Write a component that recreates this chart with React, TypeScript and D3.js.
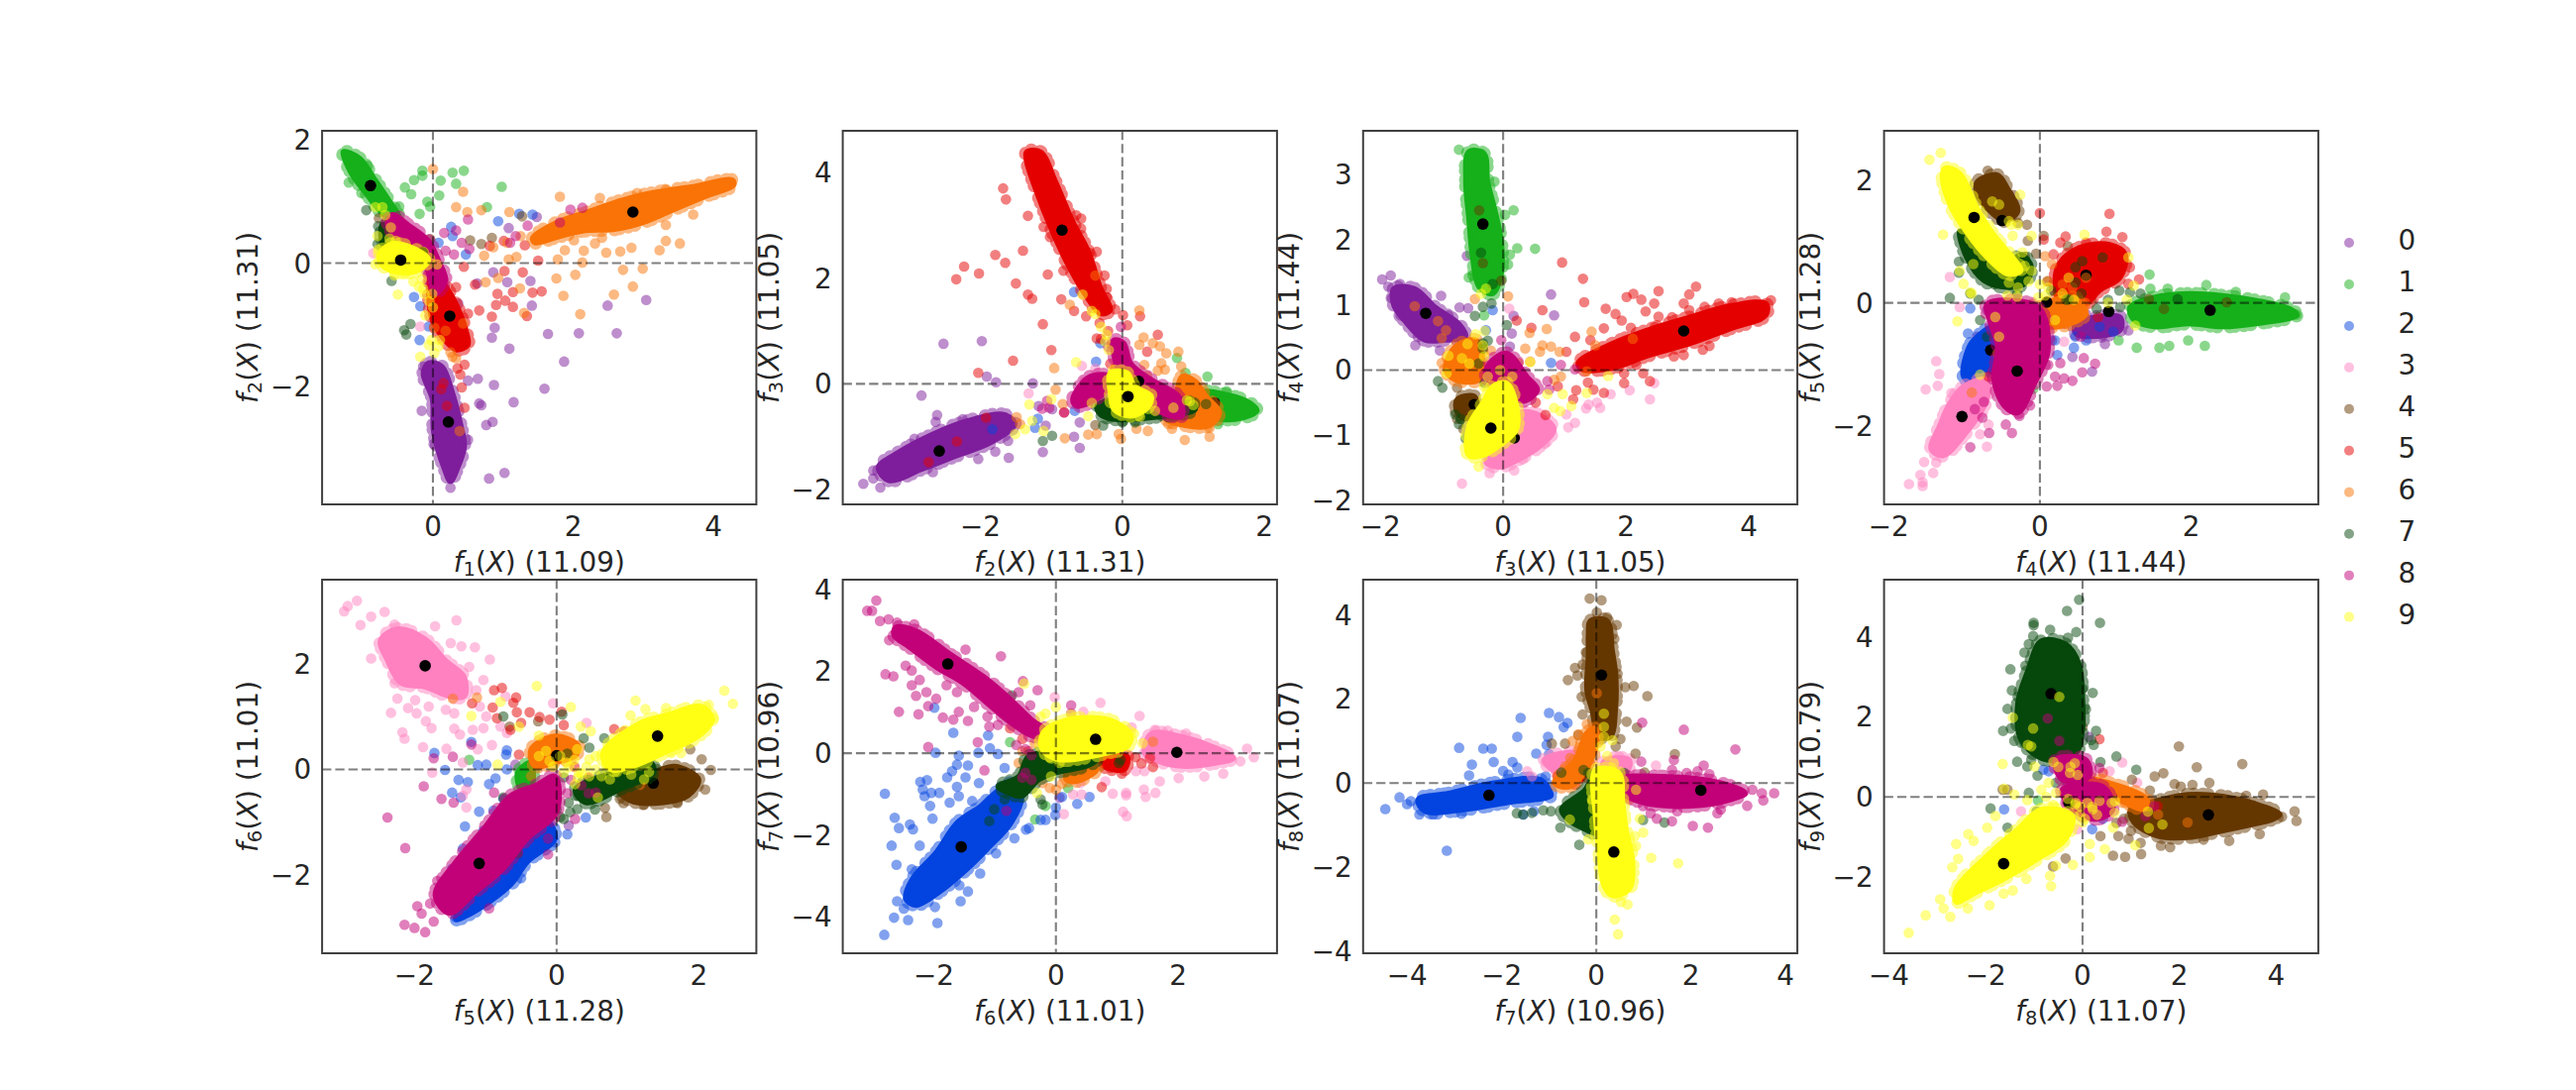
import React from "react";
import * as d3 from "d3";

// class colours, in legend order
const classNames = ["0", "1", "2", "3", "4", "5", "6", "7", "8", "9"];
const classColors = ["#7e1e9c", "#15b01a", "#0343df", "#ff81c0", "#653700", "#e50000", "#f97306", "#06470c", "#c20078", "#ffff14"];

type Flat = Record<number, number[]>;
type Clouds = Record<number, number[][]>;

// clouds = outlines of the saturated parts, dots = points that can be told apart, means = black class centres
// all as flat x,y lists
const p1Clouds: Clouds = {
    0: [[-.06,-1.62,.13,-1.68,.28,-2.11,.40,-2.64,.45,-2.97,.35,-3.34,.25,-3.55,.16,-3.34,.01,-2.75,-.01,-2.21,-.14,-1.79]],
    1: [[-1.28,1.81,-1.04,1.70,-.84,1.38,-.65,1.06,-.48,.73,-.70,.79,-.94,1.11,-1.18,1.49]],
    5: [[-.01,-.07,.13,-.28,.33,-.66,.47,-1.09,.50,-1.33,.33,-1.41,.13,-1.20,-.01,-.93,-.06,-.50]],
    6: [[1.42,.41,1.74,.65,2.22,.84,2.71,1.03,3.20,1.16,3.68,1.24,4.27,1.35,4.29,1.27,3.88,1.08,3.44,.87,3.05,.68,2.61,.55,2.13,.52,1.74,.41,1.45,.33]],
    7: [[-.72,.63,-.55,.52,-.50,.25,-.70,.25]],
    8: [[-.57,.79,-.36,.63,-.06,.36,.08,.04,.18,-.28,.03,-.50,-.06,-.18,-.21,.20,-.50,.41,-.65,.63]],
    9: [[-.77,.14,-.60,.31,-.36,.28,-.06,.06,-.21,-.12,-.50,-.15,-.72,-.04]],
};
const p1Dots: Flat = {
    0: [.86,-.15,1.06,-.31,1.39,-.29,.63,-.33,.36,-.66,1.41,-.69,.88,-1.05,.84,-1.21,1.09,-1.39,1.64,-1.15,2.08,-1.14,2.62,-1.14,2.49,-.69,3.04,-.60,1.87,-1.60,1.59,-2.04,1.15,-2.26,.87,-1.98,.64,-1.88,.50,-1.91,.66,-2.28,.69,-2.31,.85,-2.58,.76,-2.63,.50,-2.87,-.16,-2.40,1.02,-3.41,.80,-3.50,.25,-3.65,.01,-2.94,-.14,-1.68,1.08,.57,1.48,.75],
    1: [-.15,1.50,-.15,1.42,-.27,1.35,-.40,1.23,.28,1.47,.44,1.50,.11,1.34,.33,1.29,.98,1.24,-.31,1.12,-.08,1.00,.09,1.10,-.04,.92,-.19,.80,.77,.91,-.48,.92,-1.20,1.31,-.93,1.58,-1.02,1.14],
    2: [.93,.68,1.23,.80,1.42,.79,.26,.59,.28,.44,.08,.33,.47,.14,-.27,-.55,-.18,-.70,-.06,-1.03,-.19,-1.25],
    3: [-.85,.16,-.18,-1.03],
    4: [1.27,.76,.84,.41,.69,.31,.53,.37,-.04,.39,-.77,.73],
    5: [.44,-.06,.60,-.35,.33,-.39,.50,-.82,.66,-.77,.84,-.87,.90,-.68,.92,-.50,1.03,-.61,1.14,-.47,1.14,-.71,1.42,-.48,1.55,-.46,1.34,-.86,1.28,-.15,1.02,-.13,1.50,.04,.35,-1.71,.45,-1.65,.39,-1.81,.41,-2.02,.45,-2.35,.15,-1.95,.12,-2.05,.20,-2.32,1.01,.36,1.31,.29,.81,.28],
    6: [0,1.53,.43,1.16,.33,.91,.49,.83,.69,.86,1.09,.83,1.81,1.08,2.38,1.06,2.91,1.14,3.32,1.19,3.71,.79,3.32,.62,3.32,.36,3.52,.32,3.23,.21,2.83,.25,2.67,.19,2.47,.17,2.31,.32,2.15,.20,1.88,.21,2.01,.37,2.41,.41,2.99,-.09,2.71,-.11,2.85,-.38,2.58,-.51,2.10,-.83,1.86,-.53,1.76,-.25,2.03,-.19,2.13,.01,1.78,.06,1.19,.10,1.08,.06,.73,.12,.93,-.24,.75,-.31,1.24,-.41,1.30,-.81,.43,-.98,.28,-1.52,.38,-2.73,.86,.26,1.06,.33,1.25,.44,.02,-1.05,.18,-1.10,.25,-1.45,.33,-1.55],
    7: [-.95,.86,-.59,-.29,-.32,-.99,-.41,-1.09,-.38,-1.16,-.79,.31,-.62,.70,-.78,.60,-.66,.42,-.50,.50],
    8: [.50,.71,.16,.49,.33,.53,1.35,.61,1.96,.87,2.13,.90,1.81,.66,1.18,.44,1.10,.33,.41,.33,.52,.23,.30,.14,.18,.20],
    9: [-.82,.91,-.72,.91,-.60,.58,-.79,.44,-.53,.36,-.50,-.51,-.55,-.20,-.40,-.18,-.16,-.26,-.14,-.42,-.01,-.50,-.18,-1.52,-.11,-.85,-.06,-1.33,.08,-1.35,.02,-1.46,.06,-.02,-.82,-.02,-.28,-.30,-.20,-.38,-.12,-.50,-.05,-.62,0,-.72,-.02,-1.25,.10,-1.25,-.62,.40,-.68,.78,-.55,.28,-.78,.22],
};
const p1Means: Flat = {0: [.22,-2.58], 1: [-.89,1.26], 5: [.24,-.86], 6: [2.85,.83], 8: [-.15,.17], 9: [-.46,.05]};

const p2Clouds: Clouds = {
    0: [[-3.44,-1.58,-3.15,-1.29,-2.67,-.95,-2.19,-.70,-1.66,-.58,-1.51,-.76,-1.85,-1.11,-2.33,-1.36,-2.81,-1.61,-3.29,-1.83]],
    1: [[1.08,-.17,1.47,-.20,1.80,-.36,1.90,-.51,1.71,-.64,1.37,-.67,1.08,-.54]],
    5: [[-1.35,4.39,-1.15,4.39,-.94,3.83,-.70,3.08,-.48,2.52,-.31,1.83,-.17,1.39,-.31,1.33,-.50,1.64,-.75,2.21,-.99,2.89,-1.23,3.71,-1.35,4.21]],
    6: [[.84,.14,1.03,.05,1.18,-.23,1.37,-.54,1.23,-.79,.89,-.79,.60,-.64,.75,-.23]],
    7: [[-.36,-.42,-.12,-.29,.36,-.42,.99,-.36,1.03,-.48,.41,-.64,-.12,-.67,-.31,-.58]],
    8: [[-.12,.83,.02,.77,.12,.39,.41,.08,.79,-.23,.84,-.61,.55,-.54,.22,-.04,-.07,.33],[-.70,-.29,-.46,.14,-.17,.14,-.22,-.11,-.46,-.36,-.65,-.42]],
    9: [[-.17,.21,.07,.21,.17,-.04,.41,-.23,.36,-.45,.12,-.61,-.12,-.48,-.17,-.17]],
};
const p2Dots: Flat = {
    0: [-2.52,.76,-1.98,.81,-1.91,.14,-1.78,.03,-1.26,.01,-2.83,-.22,-2.61,-.59,-2.63,-.72,-2.25,-.67,-2.93,-1.04,-3.65,-1.89,-3.51,-1.79,-3.41,-1.96,-3.51,-1.64,-2.03,-1.42,-1.60,-1.40,-1.79,-1.28,-1.12,-1.29,-.68,-1.00,-.60,-1.21,-.60,-.73,-.99,-.48,-1.08,-.79,-1.61,-1.08,-2.67,-1.67,-1.18,-.42],
    1: [.77,.49,.89,.21,1.20,.14,1.35,-.76,1.47,-.14],
    2: [-.68,1.74,-.37,.42,-1.19,-.66,-1.23,-.83,-1.83,-.86,-.67,-.51,-.31,.77],
    3: [-1.32,-.18,-.57,.34,-.38,.29,-.53,.05],
    4: [-.38,-.78],
    5: [-1.68,3.70,-1.64,3.49,-1.33,3.18,-1.11,2.97,-.65,3.19,-.58,3.13,-.58,2.94,-1.02,2.78,-.46,2.48,-.36,2.50,-1.40,2.52,-1.79,2.44,-1.65,2.29,-2.23,2.22,-2.02,2.09,-2.34,1.98,-1.50,1.90,-1.05,2.07,-.83,2.14,-1.33,1.69,-1.27,1.61,-.86,1.60,-.68,1.38,-.51,1.28,-1.12,1.13,-1.00,.64,-1.54,.44,-2.03,.21,-.25,2.05,-.22,1.80,-.22,1.64,-.10,1.41,.01,1.30,.07,1.11,.25,1.28,.50,.93,.35,.61,-.36,.86,-.17,.38,-1.92,-.64,-2.33,-1.09,-2.73,-1.48,.90,-.73,-.82,-.54,-.32,1.15,-.20,1.00,-.30,.85,-.15,.75,-.10,.30,.10,.15],
    6: [.24,1.39,-.96,.30,-.94,-.11,-.74,1.50,-.38,2.05,.30,.88,.24,.74,.43,.77,.53,.71,.62,.58,.79,.61,.55,.39,.31,.36,.60,.27,.83,.33,.05,.33,-.22,-.04,-.81,-1.03,-.48,-.96,-.36,-.95,-.02,-1.04,-.05,-.95,.36,-.89,.65,-.76,.88,-1.06,1.23,-1.00,1.23,-.83,-1.49,-.63,-1.44,-.76,-.84,-.38,-.43,-.04,.50,.25,.35,.15,.70,-.85,.20,-.85],
    7: [-1.12,-1.08,-.99,-.98,-.27,-.79,0,-.73,.18,-.73,-.17,-.64,-.22,-.36,.84,-.42,1.18,-.38,.55,-.60,.70,-.58,.30,-.55],
    8: [-1.03,-.45,-1.13,-.47,-.29,.08,-.02,1.08,-.82,-.54,-1.06,-.32,-.20,.70],
    9: [-.65,.41,-1.31,-.39,-1.00,-.29,-.56,1.69,-.43,1.38,-.38,1.32,-.30,1.08,-.22,.93,-.24,.80,-.19,.64,-1.37,-.86,-1.27,-.70,-1.11,-.89,-.48,-.61,-.43,-.36,.91,-.31,.72,-.45,.46,-.51,-1.51,-.95,.95,-.33,1.00,-.40,.25,-.62],
};
const p2Means: Flat = {0: [-2.58,-1.27], 1: [1.30,-.36], 5: [-.85,2.91], 8: [.23,.05], 9: [.08,-.24]};

const p3Clouds: Clouds = {
    0: [[-1.78,1.25,-1.44,1.25,-1.11,.97,-.72,.71,-.61,.51,-.94,.46,-1.28,.46,-1.61,.76,-1.78,.99]],
    1: [[-.56,3.35,-.31,3.32,-.25,2.89,-.14,2.48,-.03,1.98,-.03,1.47,-.17,1.17,-.39,1.27,-.50,1.73,-.56,2.33,-.61,2.89]],
    3: [[.28,-.65,.61,-.70,.83,-.91,.61,-1.16,.28,-1.36,-.06,-1.49,-.28,-1.41,-.06,-1.06]],
    4: [[-.75,-.45,-.47,-.40,-.42,-.60,-.61,-.75,-.75,-.65]],
    5: [[1.22,.11,1.78,.41,2.33,.61,3.06,.82,3.72,.99,4.28,1.02,4.28,.84,3.72,.64,3.06,.41,2.33,.21,1.78,.03,1.28,.01]],
    6: [[-.78,.36,-.44,.46,-.33,.16,-.39,-.15,-.78,-.15,-.94,.01]],
    8: [[-.22,.11,.06,.26,.39,-.10,.56,-.30,.33,-.48,.06,-.35,-.28,-.10]],
    9: [[-.17,-.25,.06,-.20,.22,-.55,.22,-.91,-.06,-1.16,-.33,-1.31,-.56,-1.31,-.56,-.86,-.33,-.50]],
};
const p3Dots: Flat = {
    0: [-1.97,1.39,-1.83,1.45,-1.87,1.28,-1.81,1.10,-1.68,1.32,-1.01,1.14,-1.67,.84,-1.43,.38,-1.39,.51,-1.03,.30,-.71,.96,-.57,.95,-.89,.84,-.59,1.75,.78,1.16,.83,.84,.17,.83,.14,.56,.11,.36,-1.11,.51],
    1: [-.72,3.38,-.36,3.32,-.14,2.89,.03,2.38,.17,2.45,.23,1.87,.52,1.86,.11,1.77,.08,1.62,-.56,1.42,-.50,1.45,-.31,.84],
    2: [-.17,.92,-.28,.61,-.83,.08,.78,.11,1.78,.11],
    3: [.10,.94,2.39,-.45,2.06,-.31,2.46,-.20,1.75,-.37,1.53,-.50,1.39,-.53,1.35,-.59,1.58,-.58,1.17,-.81,1.06,-.88,1.03,-.68,-.67,-1.74,-.22,-1.58,.18,-1.54,.32,-1.37,.68,-1.13],
    4: [-.03,1.37,-.75,-.27,-.39,2.45,-.33,1.64,-.75,-.75,-.65,-.90],
    5: [.96,1.65,1.30,1.40,1.32,1.04,2.01,1.12,2.12,1.17,2.25,1.08,2.53,1.21,2.46,1.02,2.32,.90,3.14,1.28,3.03,1.16,2.94,1.02,3.03,.92,3.28,.97,3.51,1.02,3.72,1.04,4.36,1.07,1.67,.94,1.83,.86,1.93,.76,2.08,.65,2.53,.82,2.75,.81,2.47,.66,1.64,.64,1.17,.51,1.42,.46,.64,.92,.46,.65,1.03,.28,1.97,-.05,1.97,-.20,2.17,.08,2.28,-.05,2.39,-.17,1.38,-.19,1.19,-.31,1.14,-.45,1.47,-.30,1.64,-.35,.69,-.69,.53,-.50,.89,-.25,3.25,.31,3.36,.37,2.78,.21,2.94,.23,.22,.76],
    6: [.08,1.13,-.46,1.09,.71,.63,.43,.57,1.44,.59,.64,.38,.78,.36,.92,.28,.36,.33,1.50,.38,.25,.11,.44,.13,-1.00,.11,-1.44,.98,-1.06,.75,-.93,.61,-1.00,.49,0,-.05,.83,-.15,2.11,.48,1.36,-.02,.94,-.10,.60,.28,-.20,.30],
    7: [-1.06,-.17,-.99,-.27,-.46,.83,.06,.69,-.33,.41,-.33,.33,-.17,1.32,-.19,1.02,-.33,.97,-.78,-.68,-.72,-.83,-.61,-1.05,-.69,-.75,-.36,1.80,-.25,.45,-.40,.10,-.30,-.20],
    8: [.72,-.17,.75,-.30,1.17,.01,.94,.08,-.03,.46],
    9: [1.71,-.09,1.36,-.35,1.11,-.55,.83,-.58,.93,-.63,-.40,-1.48,-.28,1.25,-.36,1.17,-.89,.22,-.67,.18,-.58,.40,-.33,.38,-.31,.21,-.31,-.25,-.92,-.05,.44,.12,.72,-.37,.97,-.37,-.45,.55,-.30,.60,-.55,.10,-.25,-.10,-.05,0,.15,-.10],
};
const p3Means: Flat = {0: [-1.26,.87], 1: [-.33,2.24], 3: [.18,-1.04], 4: [-.47,-.53], 5: [2.94,.60], 9: [-.20,-.89]};

const p4Clouds: Clouds = {
    0: [[.47,-.34,1.06,-.23,1.06,-.45,.61,-.55,.47,-.50]],
    1: [[1.19,-.07,1.51,.09,1.96,.15,2.41,.12,2.86,.04,3.31,-.10,3.40,-.20,2.86,-.34,2.41,-.39,1.96,-.34,1.51,-.39,1.24,-.28]],
    2: [[-.88,-.61,-.61,-.39,-.61,-1.04,-.88,-1.31,-1.01,-1.20,-.97,-.82]],
    3: [[-1.01,-1.36,-.70,-1.25,-.70,-1.58,-1.01,-2.17,-1.28,-2.49,-1.44,-2.38,-1.33,-2.01,-1.19,-1.63]],
    4: [[-.83,1.97,-.56,2.08,-.43,1.87,-.29,1.49,-.47,1.33,-.70,1.54,-.83,1.76]],
    5: [[.25,.63,.52,.90,.92,.95,1.13,.79,1.06,.41,.79,.20,.61,-.02,.29,-.07,.20,.31]],
    6: [[.02,-.07,.43,.09,.61,-.18,.25,-.39,-.02,-.34]],
    7: [[-1.06,1.17,-.79,.90,-.47,.58,-.25,.79,-.11,.58,-.20,.31,-.43,.25,-.74,.36,-.97,.74]],
    8: [[-.70,-.02,-.02,-.07,.11,-.77,-.07,-1.31,-.29,-1.79,-.47,-1.68,-.61,-1.25,-.56,-.72,-.65,-.34]],
    9: [[-1.26,2.19,-1.06,2.11,-.83,1.54,-.61,1.11,-.47,.90,-.25,.52,-.43,.47,-.74,.79,-1.01,1.22,-1.19,1.60,-1.29,2.03]],
};
const p4Dots: Flat = {
    0: [.83,-.53,.43,-.88,.69,-1.12,.92,-.23,.32,-.34,.61,-.18,1.17,-.45,.86,-.67,-.83,-.55,-.70,-.12,.16,-.61],
    1: [1.45,.46,1.46,.23,1.28,-.73,1.58,-.73,1.71,-.70,2.18,-.70,1.96,-.61,1.04,-.61,2.20,.29,2.59,.18,3.24,.09,3.39,-.19,1.69,.23,-.09,-1.40],
    2: [-.92,-.09,.45,-.73,.23,-.85,.61,-.61,.47,-.55,.97,-.47,.79,-.39,.20,-.61,-.95,-.50,-.60,-.35],
    3: [-1.19,.42,-1.06,-.07,-1.37,-.95,-1.33,-1.16,-1.35,-1.35,-1.51,-1.41,-1.17,-1.47,-.68,-1.98,-.79,-2.14,-.70,-2.34,-1.53,-2.59,-1.37,-2.60,-1.41,-2.77,-1.58,-2.80,-1.73,-2.95,-1.55,-2.92,-1.55,-2.98,.32,-.63],
    4: [-.69,2.15,-.59,2.05,-.41,1.76,-.17,1.27,-.29,1.30,.05,1.09,-.16,1.01,.86,.74,.47,.68,.27,.52,1.44,.06,1.64,-.10,2.47,.01,.68,.06,.37,.92,-.20,.75,-.05,.80,.10,.35,.60,.70,.75,.40,.40,.55],
    5: [0,1.46,.92,1.45,.88,1.16,1.09,1.07,.34,1.08,.61,.98,.27,.98,.18,.79,1.31,.38,1.19,.58,1.17,.31,.05,1.03,.52,-.23,.77,-.23,-.68,-1.20],
    6: [-.11,-.02,-.27,-.02,-.36,-.16,-.45,-.50,-.56,-.82,-.90,-1.46,.07,.76,.16,.63,.43,.25,.61,.41,-.11,-.28,.10,.35,.30,.30,.50,.10,.15,-.25,.35,-.35,.60,0],
    7: [-1.19,.08,-1.07,.67,-1.07,.49,-.92,.15,-.81,.05,-.79,-.28,-.70,-.55,.47,.58,.56,.68,.38,.06,1.06,-.07,1.82,.06,1.19,.17,1.33,.15,.83,.74,.47,.33,-.50,.85,-.35,.60,-.20,.45,-.60,.30,-.30,.15,.15,.20,.35,.05,.55,.15,.90,.05,1.05,.20,.75,-.10],
    8: [.27,-.98,.11,-1.01,.20,-1.20,.43,-1.27,.32,-1.23,.58,-.90,.56,-1.13,.73,-.99,.09,-1.36,.23,-1.35,-.13,-1.67,-.27,-1.84,-.45,-1.98,-.37,-2.12,-.67,-2.12,-.92,-2.35,-.86,-1.73,-.76,-1.87,-.74,-1.61,.54,-.55],
    9: [-1.46,2.33,-1.31,2.44,-1.28,1.11,-.26,1.76,.59,1.11,1.17,.74,-1.01,.31,-1.09,-.30,-.92,.17,1.24,.28,1.26,-.37,-.38,1.27,-.29,1.27,-.63,1.65,-.54,1.60,-.41,1.33,-.36,1.09,-.23,.82,-.11,1.09,-.41,.33,-.43,.12,-.29,.25,-.02,.09,.11,.25,-.56,.76,-.88,.63,-1.06,.52,-.90,.15,-.59,-.23,-.54,-.55,-.79,-1.17,.20,-.28,.38,.41,-.11,.52,.07,.12,-.40,.75,-.20,.60,-.15,.35,-.30,.10,0,.30,.30,.15,.45,.05,.90,0,1.15,.05],
};
const p4Means: Flat = {0: [.91,-.14], 1: [2.25,-.12], 2: [-.65,-.77], 3: [-1.03,-1.85], 4: [-.50,1.34], 5: [.61,.45], 6: [.09,.01], 8: [-.30,-1.11], 9: [-.87,1.39]};

const p5Clouds: Clouds = {
    1: [[-.55,-.06,-.36,.13,-.36,-.38,-.50,-.38]],
    2: [[-.41,-1.25,-.12,-1.0,-.02,-1.31,-.41,-1.75,-.65,-2.19,-1.23,-2.75,-1.42,-2.84,-1.27,-2.38,-.79,-1.88]],
    3: [[-2.48,2.44,-2.24,2.66,-1.85,2.47,-1.56,2.06,-1.30,1.75,-1.30,1.38,-1.51,1.38,-1.85,1.56,-2.19,1.63,-2.38,2.06]],
    4: [[.84,-.34,1.23,-.13,1.66,.06,2.00,-.19,1.85,-.50,1.51,-.63,1.03,-.59]],
    6: [[-.36,.38,-.02,.63,.31,.44,.26,.25,-.02,.13,-.31,.06]],
    7: [[.26,-.38,.94,0,1.32,.13,1.37,-.06,.89,-.38,.41,-.63]],
    8: [[-.31,-.31,-.02,-.13,0,-.81,-.41,-1.31,-.75,-1.88,-1.13,-2.31,-1.51,-2.72,-1.71,-2.38,-1.42,-1.75,-1.03,-1.13,-.65,-.50]],
    9: [[.65,.31,1.18,.88,1.56,1.03,2.04,1.19,2.19,.94,2.00,.63,1.51,.31,1.08,.06,.75,0]],
};
const p5Dots: Flat = {
    0: [.17,-1.06,.50,-.44,-.58,.09],
    1: [-1.23,.18,-.50,-.19],
    2: [-1.20,.52,-1.72,.31,-1.57,-.01,-.70,.36,-.71,.28,-1.11,.08,-.99,.09,-.70,0,-1.38,-.20,-1.25,-.24,-.86,-.17,-.95,-.28,-1.47,-.44,-1.35,-.53,-1.09,-.80,-1.29,-1.08,-1.03,-1.16,-.75,-.56,-.89,-.78,.41,-.91,.15,-1.23,-.02,-1.38,-.22,-1.48,-.43,-1.66,-.51,-1.84,-.50,-2.06,-.75,-2.17,-.95,-2.41,-1.42,-2.80,-1.32,-1.50,-1.47,-1.88],
    3: [-2.99,2.99,-2.94,3.09,-2.81,3.19,-2.61,2.89,-2.42,2.98,-2.76,2.73,-2.61,2.10,-2.28,2.74,-1.71,2.71,-1.41,2.82,-1.49,2.39,-1.34,2.33,-1.15,2.31,-.94,2.08,-1.23,1.94,-1.03,1.69,-1.13,1.50,-2.28,1.63,-2.24,1.34,-2.33,1.07,-2.09,1.16,-1.97,1.06,-1.99,1.31,-1.80,1.19,-1.84,.91,-1.76,.78,-2.17,.70,-2.14,.58,-1.88,.42,-1.55,.39,-1.44,.77,-1.36,.66,-1.44,1.06,-1.56,1.13,-1.18,.75,-1.03,.78,-.99,1.00,-1.08,1.19,-.91,.46,-1.11,.38,-1.32,.13,-1.75,-.06,-.72,1.38,-.79,.81,-.70,.69,-.05,1.25,.42,.88,-1.27,-.38,-1.32,-.50,-1.27,-.72],
    4: [1.88,.38,2.04,.19,2.17,-.01,2.09,-.38,.94,-.64,1.23,-.67,.68,-.73,.70,-.90,1.70,-.64,.89,-.56,-.66,.81,-.26,.91],
    5: [-.88,1.50,-.77,1.54,-.57,1.36,-.61,1.26,-.90,1.17,-1.19,1.25,-.84,.97,-.56,1.08,-.38,1.08,-.24,.99,-.10,.94,.10,.84,-.50,.88,-.65,.75,.81,.76,.95,.72,-.53,.28,.07,1.09,-.10,.45,.25,.05,.45,-.15],
    6: [-1.46,1.34,-1.12,1.36,-.16,-.60,1.17,-.29,-.36,-.13],
    7: [.08,1.04,-.75,1.00,.54,-.76,.29,-.75,.17,-.63,.10,-.94,0,-.44,-.55,-1.59,-.75,-.53,.67,.59,.38,.59,.46,.41,.19,-.81,.10,-.15,.15,.30,.30,-.50,0,-.75,.05,-.90],
    8: [-1.87,-.32,-1.46,.24,-1.73,.21,-1.20,.47,-1.62,-.56,-1.45,-.63,-2.38,-.91,-2.13,-1.49,-.88,-.44,-1.68,-2.11,-1.96,-2.59,-1.90,-2.73,-1.78,-2.54,-2.14,-2.94,-2.00,-3.00,-1.85,-3.08,-1.73,-2.88,-.95,-2.63,-.12,-1.61,-.12,-1.31,.26,-.94,.55,-.44,.20,-.20,.35,-.30,.45,-.45,.15,-.45],
    9: [-.28,1.58,.20,1.18,.34,.81,1.04,1.02,1.11,1.30,1.25,1.14,1.54,1.16,2.14,1.22,2.36,1.49,2.48,1.24,2.21,.98,-.79,1.28,-1.20,1.01,-.83,.09,-.53,.81,-.25,.64,.48,.72,.29,.38,.14,.13,.26,-.28,.46,-.13,.31,-.06,-.10,.16,.58,-.53,1.61,.31,1.75,.31,1.23,-.19,.94,.63,.63,-.13,.46,.19,.10,-.06,.75,-.19,.05,.25,.18,.05,.25,.18,.35,-.08,.42,.05,.55,.25,.55,0,.30,-.15,-.05,.05,-.25,.25,-.15,.35,.70,.10,.85,-.05,1.05,-.10,1.30,-.05],
};
const p5Means: Flat = {3: [-1.85,1.96], 4: [1.36,-.26], 6: [0,.26], 8: [-1.09,-1.78], 9: [1.42,.63]};

const p6Clouds: Clouds = {
    2: [[-1.06,-1.05,-.73,-.73,-.56,-1.05,-.73,-1.70,-1.12,-2.34,-1.45,-2.83,-1.90,-3.39,-2.29,-3.72,-2.46,-3.56,-2.35,-3.07,-1.96,-2.42,-1.62,-1.70,-1.23,-1.29]],
    3: [[1.56,.48,2.07,.40,2.57,.16,2.91,-.12,2.63,-.24,2.07,-.32,1.68,-.20,1.45,0]],
    5: [[.73,-.16,1.17,-.08,1.12,-.40,.78,-.32]],
    6: [[.17,-.48,.56,-.24,.67,-.40,.34,-.69,.17,-.65]],
    7: [[-.45,-.08,0,0,.67,-.16,.50,-.32,0,-.48,-.28,-.65,-.56,-1.05,-.78,-.97,-.95,-.81,-.61,-.57]],
    8: [[-2.63,3.07,-2.29,2.99,-1.73,2.42,-1.17,1.86,-.78,1.37,-.39,.81,-.17,.57,-.34,.40,-.73,.73,-1.06,1.13,-1.51,1.70,-1.96,2.10,-2.40,2.59,-2.65,2.87]],
    9: [[-.22,.48,.17,.81,.89,.81,1.23,.44,1.17,.16,.84,0,.06,-.16,-.22,.08]],
};
const p6Dots: Flat = {
    0: [-.81,-1.40,.06,-1.09],
    1: [-.34,-1.62,-.17,-1.29,.20,-.85,.73,-.32,-.75,.27],
    2: [-1.99,1.11,-1.68,.50,-1.11,.43,-1.08,.12,-1.97,.01,-1.27,.01,-.95,-.02,-1.59,-.06,-1.62,-.28,-1.44,-.30,-1.70,-.44,-1.78,-.59,-1.48,-.59,-2.22,-.70,-2.11,-.66,-2.18,-.89,-2.15,-1.05,-2.04,-.97,-1.91,-.97,-1.62,-.82,-1.59,-1.05,-1.74,-1.21,-2.06,-1.29,-2.80,-.99,-2.64,-1.58,-2.57,-1.83,-2.39,-1.74,-2.34,-1.86,-2.69,-2.26,-2.23,-2.26,-2.02,-1.60,-2.61,-2.73,-2.36,-2.84,-2.60,-3.62,-2.49,-3.80,-2.65,-4.02,-2.42,-4.08,-2.81,-4.44,-1.94,-4.15,-1.98,-3.76,-1.56,-3.62,-1.44,-3.38,-1.58,-3.23,-1.24,-2.94,-.98,-2.45,-.68,-2.08,-.49,-1.87,-.44,-1.83,-.25,-1.63,-.17,-1.63,-.01,-1.51,0,-1.33,.10,-1.07,.35,-1.24,.55,-1.07,-.84,-.36,-1.26,-.73,-1.37,-1.17],
    3: [-.02,1.37,.73,1.23,.45,1.01,1.37,.91,1.24,.63,1.62,.57,1.83,.55,2.13,.48,3.13,.11,3.24,-.10,3.02,-.20,2.74,-.50,2.43,-.57,2.01,-.61,1.70,-.69,1.45,-.44,1.31,-.44,1.44,-.89,1.63,-.97,1.47,-1.07,1.15,-.97,1.15,-1.03,.93,-.99,1.10,-1.43,1.16,-1.54,.28,-1.01,.42,-1.01,.40,-.73,.13,-1.49,.81,-.69],
    5: [.75,-.83,1.54,-.12,1.59,-.34,1.08,-.50,.89,-.36,-.75,.61,-.55,.35,-.45,.05,.90,-.30,1.30,-.10,1.40,-.25],
    6: [-.58,.81,1.59,.28,-.28,.44,-.61,-.24,-.22,-.73,0,-.89,-.50,-.30,-.55,.05,-.35,.25,-.10,-.85,.10,-.75],
    7: [-.72,1.41,-.25,-1.13,-.22,-1.25,-1.01,-1.37,-1.09,-1.66,-.84,-1.13,1.03,-.24,1.06,-.16],
    8: [-2.94,3.73,-3.09,3.48,-3.01,3.48,-2.88,3.23,-2.74,3.27,-2.60,3.19,-2.32,3.15,-2.73,2.76,-2.79,1.93,-2.66,1.88,-2.46,2.14,-2.36,2.02,-2.23,1.79,-2.36,1.66,-2.12,1.49,-1.96,1.33,-2.29,1.40,-2.57,1.01,-2.25,.95,-2.09,1.15,-1.85,.87,-1.68,.82,-1.44,.79,-1.59,1.01,-1.48,2.53,-.90,2.37,-1.62,1.49,-1.79,1.66,-1.34,1.13,-1.12,.89,-.95,.69,-1.09,.65,-.61,1.49,-.54,1.76,-.30,1.54,-.42,1.17,.25,1.17,.25,.97,-1.17,-.42,-1.28,.27,-2.09,.15,-.50,-.48,.45,.74,-.81,-1.41,-.50,.10,-.40,-.05,-.65,.20,-.40,-.65,-.55,-.60],
    9: [-.52,1.70,-.17,.97,0,1.13,-.25,.89,1.28,.48,-.08,-.57,1.42,.24,.06,-.24,-.31,-.97,-.10,-.10,.25,.95],
};
const p6Means: Flat = {2: [-1.55,-2.29], 3: [1.98,.02], 8: [-1.77,2.18], 9: [.65,.34]};

const p7Clouds: Clouds = {
    2: [[-3.77,-.39,-3.12,-.24,-2.19,0,-1.18,.08,-.96,-.24,-.96,-.31,-1.90,-.47,-2.76,-.63,-3.63,-.67]],
    3: [[-1.10,.55,-.38,.71,-.24,.31,-.82,.24],[.19,.55,.70,.55,.63,.24,.12,.31]],
    4: [[-.13,3.86,.23,3.86,.34,3.15,.41,2.60,.41,1.81,.30,1.10,.05,1.10,-.09,1.73,-.20,2.20,-.17,3.07,-.17,3.54]],
    5: [[-.38,.39,-.17,.47,-.31,.08,-.53,.16]],
    6: [[-.20,1.20,-.02,1.30,-.02,.79,-.53,-.08,-.89,0,-.45,.55]],
    7: [[-.74,-.63,-.24,-.16,-.06,.16,-.02,-1.18,-.24,-1.10,-.60,-.87]],
    8: [[.48,.08,1.42,.16,2.65,0,3.15,-.24,2.86,-.39,2.0,-.55,.99,-.47,.56,-.24]],
    9: [[-.02,.31,.48,.24,.56,-.47,.63,-1.10,.77,-1.89,.70,-2.52,.34,-2.68,.16,-2.44,.05,-1.57,-.02,-.79]],
};
const p7Dots: Flat = {
    2: [-4.46,-.62,-4.16,-.34,-4.00,-.50,-3.92,-.43,-3.74,-.75,-3.45,-.75,-3.16,-1.61,-2.85,-.73,-2.90,.84,-2.39,.82,-2.21,.82,-2.17,.50,-2.63,.44,-2.69,.18,-1.97,.29,-1.77,.50,-1.67,.37,-1.67,1.10,-1.60,1.55,-1.00,1.67,-.79,1.57,-.61,1.43,-.69,1.33,-1.02,1.10,-1.05,.91,-1.27,.70,-1.00,.69,-1.54,-.75,-1.32,-.67,-1.07,.16,-1.86,.20],
    3: [1.26,.42,-1.46,.28,-1.36,.16,.48,.63,-1.07,.50],
    4: [-.14,4.39,.11,4.35,.01,4.06,.23,3.94,.43,3.76,.38,3.43,-.22,3.11,-.45,2.74,-.29,2.82,-.40,2.56,-.60,2.45,.45,2.60,.61,2.28,.79,2.31,1.08,2.07,-.31,2.05,-.29,1.63,.64,1.46,.86,1.32,.51,1.05,-.94,.94,-.66,.94,.83,.70,1.66,.69,-.38,1.14,.41,.87,1.02,.25],
    5: [-.45,-.04,-.82,.16],
    6: [.01,2.14,-.38,1.16,.70,-.39,.59,-.35,-.50,1.00,-.35,.85,-.20,1.40,-.55,.60,-.65,.40],
    7: [-.36,-1.47,-.76,-1.06,-1.68,-.72,-1.55,-.75,-1.36,-.71,-1.12,-.65,-.96,-.67,.99,-.88,1.44,-.94,-.74,.25,.59,.24,-.27,.31,-.17,.24],
    8: [1.85,1.27,.97,1.44,2.94,.80,1.64,.55,1.60,.31,.95,.51,2.27,.42,2.14,.28,2.39,.21,1.91,.24,3.76,-.24,3.53,-.41,3.50,-.24,3.30,-.16,3.19,-.54,2.63,-.63,2.56,-.72,2.04,-1.02,2.36,-1.06,1.60,-.91,1.28,-.85,1.15,-.72,1.71,-.67,.99,-.55],
    9: [.39,-3.25,.46,-3.60,.66,-2.89,.52,-2.83,1.73,-1.91,1.16,-1.78,.99,-1.18,.81,-1.26,.84,-1.50,-.17,-1.34,-.56,-.87,.92,-.85,.16,1.65,.16,1.34,.16,1.10,.34,1.02,.23,.65,.37,.47,.84,-.16,-.09,-.39,.09,.87],
};
const p7Means: Flat = {2: [-2.27,-.29], 4: [.11,2.57], 8: [2.21,-.17], 9: [.37,-1.64]};

const p8Clouds: Clouds = {
    4: [[.99,-.31,1.62,-.07,2.18,.06,2.89,.02,3.52,-.15,4.08,-.44,3.94,-.56,3.38,-.73,2.75,-.89,2.18,-1.02,1.55,-.98,1.06,-.64]],
    6: [[.07,.43,.56,.35,1.34,-.07,1.27,-.31,.56,.02,.07,.10]],
    7: [[-.85,3.90,-.35,3.82,-.07,3.32,0,2.50,0,1.67,-.14,1.09,-.77,.93,-1.27,1.42,-1.34,2.33,-1.13,3.16]],
    8: [[-.56,.93,.07,.93,.14,.51,-.42,.43],[-.42,.18,.42,.26,.63,-.31,.28,-.56,-.21,-.31]],
    9: [[-2.61,-2.30,-1.90,-1.39,-1.34,-.81,-.85,-.31,-.21,-.48,-.35,-1.06,-.92,-1.55,-1.62,-2.05,-2.18,-2.38,-2.61,-2.63]],
};
const p8Dots: Flat = {
    0: [.13,1.50],
    1: [-.92,-.09],
    2: [-1.62,-.31,.20,-.81,.42,-.55,-.70,.64,-.81,.68],
    3: [.82,.86,1.13,.35,.56,.64,-1.27,-.36,-.11,-.81],
    4: [1.99,1.26,3.30,.82,2.36,.74,1.67,.59,1.49,.51,1.02,.43,1.90,.32,2.03,.26,2.27,.30,2.62,.35,1.39,.16,3.73,.06,3.38,.03,4.38,-.36,4.42,-.60,4.12,-.50,3.66,-.93,3.03,-1.10,2.50,-1.07,1.81,-1.26,1.62,-1.22,1.21,-1.43,.88,-1.50,.63,-1.47,.74,-.98,.37,-.98,-.61,-1.74,-.35,-1.54,-1.65,.18,-1.55,.18,0,1.75,.85,-.55,.70,-.65,1.00,-.85,.95,-1.05,1.20,-1.15],
    5: [.35,1.44,.42,.60,1.55,-.23,.21,.35,.30,.10,.45,.25,.60,.10,.70,.05],
    6: [2.17,-.64,1.20,-.19,1.56,-.44,.88,-.15,0,.14],
    7: [-.07,4.93,-.32,4.65,.36,4.35,-1.01,4.35,-1.01,4.29,-.67,4.18,-.13,4.12,-.30,3.98,-1.02,4.02,-1.11,3.82,-1.20,3.61,-1.49,3.19,-1.18,3.28,-1.46,2.66,-1.34,2.50,-1.55,2.20,-1.64,1.65,-1.48,1.71,-1.41,1.40,-1.35,.88,-1.14,.76,-.93,.53,.21,2.60,.07,2.19,0,2.70,.28,1.65,.23,1.30,.18,1.42,.37,.87,.70,1.01,1.11,.68,-1.11,.10,-1.90,-.29,-.95,-.36,-1.55,-.77,-1.20,1.34,-1.06,.93,-.15,.45,-.35,.40,-.55,.35,.25,.05,-.10,-.05,.30,-.20,.05,.20],
    8: [-.72,1.96,-.48,1.40,.82,-.62,.35,.72,1.30,-.48,1.48,-.23,-.32,-.15],
    9: [-3.59,-3.40,-3.24,-2.96,-2.73,-3.00,-2.94,-2.56,-2.87,-2.79,-2.37,-2.79,-1.92,-2.71,-1.44,-2.34,-1.63,-2.42,-1.16,-2.05,-.65,-2.23,-.67,-1.97,-.20,-1.70,-.55,-1.72,.15,-1.18,.15,-1.51,.46,-1.31,1.09,-1.21,-2.61,-1.18,-2.36,-.93,-2.25,-1.10,-1.97,-.77,-2.69,-1.76,-2.57,-1.55,-1.80,-.48,-1.65,.82,-1.62,.21,-1.41,.06,-1.14,-.08,-.99,.76,-1.06,1.26,-1.13,1.30,-1.02,1.71,-.48,2.50,-1.44,1.98,-.60,.87,-.26,.60,-.16,.84,-.70,.35,-.14,-.15,.21,-.31,.67,-.11,.66,-.40,1.35,-.37,1.65,-.69,1.37,-.78,.63,-.77,0,-.64,-.85,.18,-.30,-.05,-.15,-.20,-.05,-.25,.10,-.15,.20,-.25,.30,-.45,-.05,-.45,.05,-.55,-.55,.10,-.60,-.20,-.75,0,-.50,.75,-.25,.75,-.10,.55,.35,-.10,.60,-.15],
};
const p8Means: Flat = {4: [2.60,-.45], 7: [-.65,2.58], 8: [-.28,-.15], 9: [-1.63,-1.67]};

const panelClouds = [p1Clouds, p2Clouds, p3Clouds, p4Clouds, p5Clouds, p6Clouds, p7Clouds, p8Clouds];
const panelDots = [p1Dots, p2Dots, p3Dots, p4Dots, p5Dots, p6Dots, p7Dots, p8Dots];
const panelMeans = [p1Means, p2Means, p3Means, p4Means, p5Means, p6Means, p7Means, p8Means];

// axis limits and ticks per panel
const xDomains = [[-1.58,4.61],[-3.94,2.18],[-2.28,4.79],[-2.06,3.68],[-3.30,2.81],[-3.49,3.62],[-4.93,4.25],[-4.10,4.87]];
const yDomains = [[-3.92,2.15],[-2.28,4.79],[-2.06,3.67],[-3.28,2.80],[-3.48,3.59],[-4.89,4.24],[-4.05,4.84],[-3.91,5.43]];
const xTicks = [[0,2,4],[-2,0,2],[-2,0,2,4],[-2,0,2],[-2,0,2],[-2,0,2],[-4,-2,0,2,4],[-4,-2,0,2,4]];
const yTicks = [[-2,0,2],[-2,0,2,4],[-2,-1,0,1,2,3],[-2,0,2],[-2,0,2],[-4,-2,0,2,4],[-4,-2,0,2,4],[-2,0,2,4]];

// factor index and its spectral value for the axis titles
const xFactors = [1,2,3,4,5,6,7,8];
const yFactors = [2,3,4,5,6,7,8,9];
const xValues = ["11.09","11.31","11.05","11.44","11.28","11.01","10.96","11.07"];
const yValues = ["11.31","11.05","11.44","11.28","11.01","10.96","11.07","10.79"];

const panelLefts = [325.1, 850.6, 1375.8, 1901.6];
const panelTops = [132, 585];
const panelW = 438.3;
const panelH = 377;
const dotR = 5.3;
const meanR = 5.8;
const font = "'DejaVu Sans', sans-serif";
const fontSize = 27.8;
const textColor = "#262626";

const toPairs = (flat: number[]): [number, number][] => {
    const out: [number, number][] = [];
    for (let i = 0; i < flat.length; i += 2) out.push([flat[i], flat[i + 1]]);
    return out;
};

const tickText = (v: number) => (v < 0 ? "\u2212" + Math.abs(v) : String(v));

const AxisTitle: React.FC<{n: number; value: string; [k: string]: any}> = ({n, value, ...rest}) => (
    <text fontFamily={font} fontSize={fontSize} fill={textColor} textAnchor="middle" {...rest}>
        <tspan fontStyle="italic">f</tspan>
        <tspan fontSize={fontSize * 0.7} dy={4}>{n}</tspan>
        <tspan dy={-4}>(</tspan>
        <tspan fontStyle="italic">X</tspan>
        <tspan>) ({value})</tspan>
    </text>
);

const Panel: React.FC<{i: number}> = ({i}) => {
    const left = panelLefts[i % 4];
    const top = panelTops[Math.floor(i / 4)];
    const x = d3.scaleLinear().domain(xDomains[i]).range([0, panelW]);
    const y = d3.scaleLinear().domain(yDomains[i]).range([panelH, 0]);
    const outline = d3.line<[number, number]>()
        .x(d => x(d[0]))
        .y(d => y(d[1]))
        .curve(d3.curveCatmullRomClosed.alpha(0.5));
    const clipId = `clip-${i}`;

    return (
        <g transform={`translate(${left},${top})`}>
            <clipPath id={clipId}><rect width={panelW} height={panelH} /></clipPath>
            <g clipPath={`url(#${clipId})`}>
                {classColors.map((color, c) => (
                    <g key={c}>
                        {(panelClouds[i][c] || []).map((flat, k) => {
                            const d = outline(toPairs(flat)) || "";
                            return (
                                <g key={k}>
                                    <path d={d} fill="none" stroke={color} strokeOpacity={0.5} strokeWidth={dotR * 2 + 3}
                                          strokeLinecap="round" strokeDasharray="0 9 0 5 0 13 0 7" />
                                    <path d={d} fill={color} stroke={color} strokeWidth={5} strokeLinejoin="round" />
                                </g>
                            );
                        })}
                        {toPairs(panelDots[i][c] || []).map((p, k) => (
                            <circle key={k} cx={x(p[0])} cy={y(p[1])} r={dotR} fill={color} fillOpacity={0.5} />
                        ))}
                        {panelMeans[i][c] && (
                            <circle cx={x(panelMeans[i][c][0])} cy={y(panelMeans[i][c][1])} r={meanR} fill="#000" />
                        )}
                    </g>
                ))}
            </g>
            <line x1={x(0)} x2={x(0)} y1={0} y2={panelH} stroke="#000" strokeOpacity={0.5} strokeWidth={2.1} strokeDasharray="9.3 4" />
            <line x1={0} x2={panelW} y1={y(0)} y2={y(0)} stroke="#000" strokeOpacity={0.5} strokeWidth={2.1} strokeDasharray="9.3 4" />
            <rect width={panelW} height={panelH} fill="none" stroke="#404040" strokeWidth={2} />
            {xTicks[i].map(t => (
                <text key={t} x={x(t)} y={panelH + 32} fontFamily={font} fontSize={fontSize} fill={textColor} textAnchor="middle">{tickText(t)}</text>
            ))}
            {yTicks[i].map(t => (
                <text key={t} x={-11} y={y(t) + 10} fontFamily={font} fontSize={fontSize} fill={textColor} textAnchor="end">{tickText(t)}</text>
            ))}
            <AxisTitle n={xFactors[i]} value={xValues[i]} x={panelW / 2} y={panelH + 67.5} />
            <AxisTitle n={yFactors[i]} value={yValues[i]} transform={`translate(-65,${panelH / 2}) rotate(-90)`} />
        </g>
    );
};

const legendY = d3.scaleLinear().domain([0, 9]).range([245, 622.6]);

const App: React.FC = () => (
    <svg width={2600} height={1100} style={{position: "absolute", left: 0, top: 0, background: "#fff"}}>
        {xFactors.map((_, i) => <Panel key={i} i={i} />)}
        {classNames.map((name, c) => (
            <g key={name}>
                <circle cx={2371} cy={legendY(c)} r={5} fill={classColors[c]} fillOpacity={0.5} />
                <text x={2420.5} y={legendY(c) + 7} fontFamily={font} fontSize={fontSize} fill={textColor}>{name}</text>
            </g>
        ))}
    </svg>
);

export default App;
